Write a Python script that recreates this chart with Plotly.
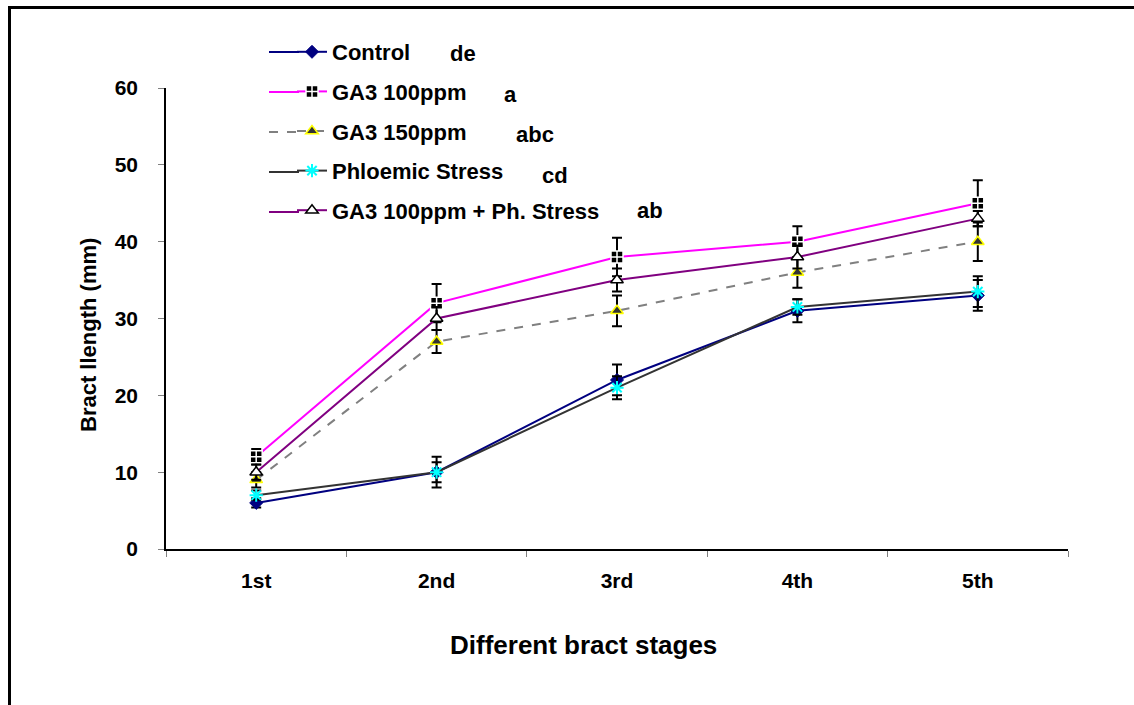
import plotly.graph_objects as go

stages = ["1st", "2nd", "3rd", "4th", "5th"]

control = [6, 10, 22, 31, 33]
control_err = [0.6, 2, 2, 1.5, 2]

ga100 = [12, 32, 38, 40, 45]
ga100_err = [1, 2.5, 2.5, 2, 3]

ga150 = [9, 27, 31, 36, 40]
ga150_err = [1, 1.5, 2, 2, 2.5]

phl = [7, 10, 21, 31.5, 33.5]
phl_err = [0.6, 1.3, 1.5, 1, 2]

ga100ph = [10, 30, 35, 38, 43]
ga100ph_err = [1, 1.5, 1.5, 1.5, 1]

names = ["Control", "GA3 100ppm", "GA3 150ppm", "Phloemic Stress", "GA3 100ppm + Ph. Stress"]
letters = ["de", "a", "abc", "cd", "ab"]

W, H = 1134, 705
L, R, T, B = 166, 1068, 88, 549
PW, PH = R - L, B - T

def px(x):
    return (x - L) / PW

def py(y):
    return (B - y) / PH

FONT = "Arial, Liberation Sans, sans-serif"

fig = go.Figure()

def err(vals):
    return dict(type="data", array=vals, visible=True, color="black", thickness=2, width=5)

series = [
    (control, control_err, dict(color="#000080", width=2), dict(symbol="diamond", size=10, color="#000080", line=dict(color="#000080", width=1))),
    (ga100, ga100_err, dict(color="#FF00FF", width=2), dict(symbol="square-cross", size=12, color="black", line=dict(color="white", width=1.5))),
    (ga150, ga150_err, dict(color="#808080", width=2, dash="dash"), dict(symbol="triangle-up", size=11, color="#333333", line=dict(color="#FFFF00", width=1.5))),
    (phl, phl_err, dict(color="#333333", width=2), dict(symbol="asterisk", size=11, color="#00FFFF", line=dict(color="#00FFFF", width=2))),
    (ga100ph, ga100ph_err, dict(color="#800080", width=2), dict(symbol="triangle-up", size=11, color="white", line=dict(color="black", width=1.5))),
]

for i, (vals, e, ln, mk) in enumerate(series):
    fig.add_trace(go.Scatter(
        x=stages, y=vals, name=names[i], mode="lines+markers",
        line=ln, marker=mk, error_y=err(e), legendgroup=f"g{i}",
    ))

fig.update_layout(
    width=W, height=H,
    margin=dict(l=L, r=W - R, t=T, b=H - B),
    paper_bgcolor="white", plot_bgcolor="white",
    font=dict(family=FONT, color="black"),
    showlegend=True,
    legend=dict(
        x=px(292), y=py(31), xanchor="left", yanchor="top",
        font=dict(family=FONT, size=22, color="black", weight="bold"),
        tracegroupgap=8, bgcolor="rgba(0,0,0,0)", itemwidth=30,
    ),
    xaxis=dict(
        type="category", range=[-0.5, 4.5], tickson="boundaries",
        ticks="outside", ticklen=6, tickcolor="#808080", tickwidth=1,
        showline=True, linecolor="black", linewidth=1.5, showgrid=False,
        tickfont=dict(family=FONT, size=21, weight="bold"), zeroline=False,
        ticklabelstandoff=12,
    ),
    yaxis=dict(
        range=[0, 60], dtick=10, ticks="outside", ticklen=6, tickcolor="#808080",
        showline=True, linecolor="black", linewidth=1.5, showgrid=False, zeroline=False,
        tickfont=dict(family=FONT, size=21, weight="bold"), ticklabelstandoff=16,
    ),
)

# extend the short legend line samples to the left, as in the original
legend_rows = [52, 92, 132, 172, 212]
for (vals, e, ln, mk), ry in zip(series, legend_rows):
    fig.add_shape(type="line", xref="paper", yref="paper",
                  x0=px(269), x1=px(299), y0=py(ry), y1=py(ry),
                  line=dict(color=ln["color"], width=2, dash=ln.get("dash", "solid")))

letter_pos = [(448, 53), (502, 95), (514, 134), (540, 175), (635, 210)]
for t, (lx, ly) in zip(letters, letter_pos):
    fig.add_annotation(x=px(lx), y=py(ly), xref="paper", yref="paper", text=t,
                       showarrow=False, xanchor="left", yanchor="middle",
                       font=dict(family=FONT, size=22, weight="bold"))

fig.add_annotation(x=px(583), y=py(645), xref="paper", yref="paper", text="Different bract stages",
                   showarrow=False, xanchor="center", yanchor="middle",
                   font=dict(family=FONT, size=26, weight="bold"))
fig.add_annotation(x=px(88), y=py(335), xref="paper", yref="paper", text="Bract llength (mm)",
                   showarrow=False, xanchor="center", yanchor="middle", textangle=-90,
                   font=dict(family=FONT, size=22, weight="bold"))

# outer chart frame (only left and top visible in view)
fig.add_shape(type="rect", xref="paper", yref="paper",
              x0=px(9.5), y0=py(7.5), x1=px(1200), y1=py(800),
              line=dict(color="black", width=3), fillcolor="rgba(0,0,0,0)", layer="above")

fig.write_html("out.html")
